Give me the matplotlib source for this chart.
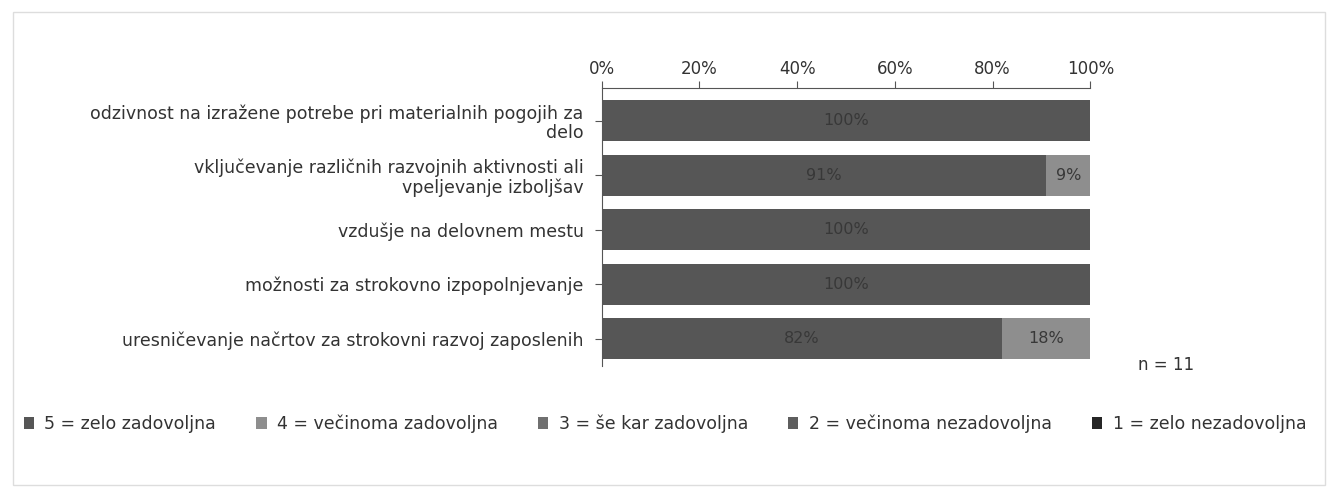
import numpy as np
import matplotlib
matplotlib.use("Agg")
import matplotlib.pyplot as plt
from matplotlib.patches import Rectangle

categories = [
    "odzivnost na izražene potrebe pri materialnih pogojih za\ndelo",
    "vključevanje različnih razvojnih aktivnosti ali\nvpeljevanje izboljšav",
    "vzdušje na delovnem mestu",
    "možnosti za strokovno izpopolnjevanje",
    "uresničevanje načrtov za strokovni razvoj zaposlenih",
]
series_names = [
    "5 = zelo zadovoljna",
    "4 = večinoma zadovoljna",
    "3 = še kar zadovoljna",
    "2 = večinoma nezadovoljna",
    "1 = zelo nezadovoljna",
]
val_5 = [100, 91, 100, 100, 82]
val_4 = [0, 9, 0, 0, 18]
val_3 = [0, 0, 0, 0, 0]
val_2 = [0, 0, 0, 0, 0]
val_1 = [0, 0, 0, 0, 0]
colors = ["#565656", "#8e8e8e", "#707070", "#5e5e5e", "#262626"]
n_text = "n = 11"

plt.rcParams['font.family'] = ['DejaVu Sans']
fig = plt.figure(figsize=(13.28, 4.88), dpi=100)
ax = fig.add_axes([0.453, 0.25, 0.368, 0.57])

y = np.arange(len(categories))
left = np.zeros(len(categories))
for name, vals, c in zip(series_names, [val_5, val_4, val_3, val_2, val_1], colors):
    vals = np.array(vals, dtype=float)
    ax.barh(y, vals, left=left, height=0.75, color=c, label=name)
    for yi, v, l in zip(y, vals, left):
        if v > 0:
            ax.text(l + v / 2, yi, f"{v:.0f}%", ha="center", va="center",
                    fontsize=11.5, color="#383838")
    left += vals

ax.set_xlim(0, 100)
ax.set_ylim(len(categories) - 0.5, -0.6)
ax.set_yticks(y)
ax.set_yticklabels(categories, fontsize=12.5, color="#333333", linespacing=1.1)
ax.set_xticks(np.arange(0, 101, 20))
ax.set_xticklabels([f"{t}%" for t in range(0, 101, 20)], fontsize=12, color="#333333")
ax.xaxis.tick_top()
ax.tick_params(axis="x", length=5, color="#555555", pad=2)
ax.tick_params(axis="y", length=5, color="#555555", pad=8)
for side in ["right", "bottom"]:
    ax.spines[side].set_visible(False)
for side in ["top", "left"]:
    ax.spines[side].set_color("#555555")

fig.text(0.857, 0.252, n_text, fontsize=12, color="#333333", va="center")

handles, labels = ax.get_legend_handles_labels()
fig.legend(handles, labels, loc="center left", bbox_to_anchor=(0.006, 0.132), ncol=5,
           frameon=False, fontsize=12.5, handlelength=0.6, handleheight=0.7,
           columnspacing=2.3, handletextpad=0.6, labelcolor="#333333")

fig.patches.append(Rectangle((0.01, 0.006), 0.988, 0.97, transform=fig.transFigure,
                             fill=False, edgecolor="#dddddd", linewidth=1))

fig.savefig("out.png", dpi=100, facecolor="white")
